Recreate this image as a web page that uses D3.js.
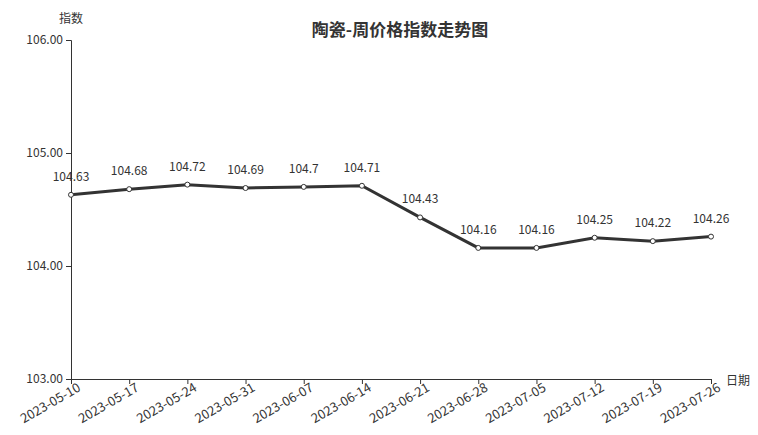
<!DOCTYPE html>
<html>
<head>
<meta charset="utf-8">
<script src="https://cdn.jsdelivr.net/npm/d3@7"></script>
<style>
body { margin: 0; background: #fff; }
text { font-family: "Noto Sans CJK SC", "Noto Sans", sans-serif; }
</style>
</head>
<body>
<svg id="chart"></svg>
<script>
var width = 758;
var height = 435;

var dates = ["2023-05-10", "2023-05-17", "2023-05-24", "2023-05-31", "2023-06-07", "2023-06-14",
  "2023-06-21", "2023-06-28", "2023-07-05", "2023-07-12", "2023-07-19", "2023-07-26"];
var values = [104.63, 104.68, 104.72, 104.69, 104.7, 104.71, 104.43, 104.16, 104.16, 104.25, 104.22, 104.26];
var yTicks = [103, 104, 105, 106];

var margin = {left: 71, right: 47, top: 40, bottom: 56};

var svg = d3.select("#chart")
  .attr("width", width)
  .attr("height", height);

var x = d3.scalePoint()
  .domain(dates)
  .range([margin.left, width - margin.right]);

var y = d3.scaleLinear()
  .domain([103, 106])
  .range([height - margin.bottom, margin.top]);

// title
svg.append("text")
  .attr("x", 400)
  .attr("y", 36)
  .attr("text-anchor", "middle")
  .style("font-size", "17px")
  .style("font-weight", "bold")
  .style("fill", "#333")
  .text("陶瓷-周价格指数走势图");

// y axis
var yAxis = svg.append("g")
  .attr("transform", "translate(" + margin.left + ",0)")
  .call(d3.axisLeft(y).tickValues(yTicks).tickFormat(d3.format(".2f")).tickSize(5).tickSizeOuter(5));
yAxis.selectAll("text").style("font-size", "12px").style("fill", "#333");
yAxis.selectAll("path,line").style("stroke", "#333");

svg.append("text")
  .attr("x", 71)
  .attr("y", 23)
  .attr("text-anchor", "middle")
  .style("font-size", "12px")
  .style("fill", "#333")
  .text("指数");

// x axis
var xAxis = svg.append("g")
  .attr("transform", "translate(0," + (height - margin.bottom) + ")")
  .call(d3.axisBottom(x).tickSize(5).tickSizeOuter(0));
xAxis.selectAll("path,line").style("stroke", "#333");
xAxis.selectAll("text")
  .style("font-size", "13px")
  .style("fill", "#333")
  .attr("text-anchor", "end")
  .attr("dx", "3")
  .attr("dy", "0.9em")
  .attr("transform", "rotate(-30)")
  .attr("y", 3);

svg.append("text")
  .attr("x", 726)
  .attr("y", 385)
  .style("font-size", "12px")
  .style("fill", "#333")
  .text("日期");

// line
var line = d3.line()
  .x(function(d, i) { return x(dates[i]); })
  .y(function(d) { return y(d); });

svg.append("path")
  .datum(values)
  .attr("d", line)
  .style("fill", "none")
  .style("stroke", "#333")
  .style("stroke-width", 3);

svg.selectAll("circle.pt")
  .data(values)
  .enter()
  .append("circle")
  .attr("class", "pt")
  .attr("cx", function(d, i) { return x(dates[i]); })
  .attr("cy", function(d) { return y(d); })
  .attr("r", 2.5)
  .style("fill", "#fff")
  .style("stroke", "#333")
  .style("stroke-width", 1);

svg.selectAll("text.lbl")
  .data(values)
  .enter()
  .append("text")
  .attr("class", "lbl")
  .attr("x", function(d, i) { return x(dates[i]); })
  .attr("y", function(d) { return y(d) - 14; })
  .attr("text-anchor", "middle")
  .style("font-size", "12px")
  .style("fill", "#333")
  .text(function(d) { return d; });
</script>
</body>
</html>
